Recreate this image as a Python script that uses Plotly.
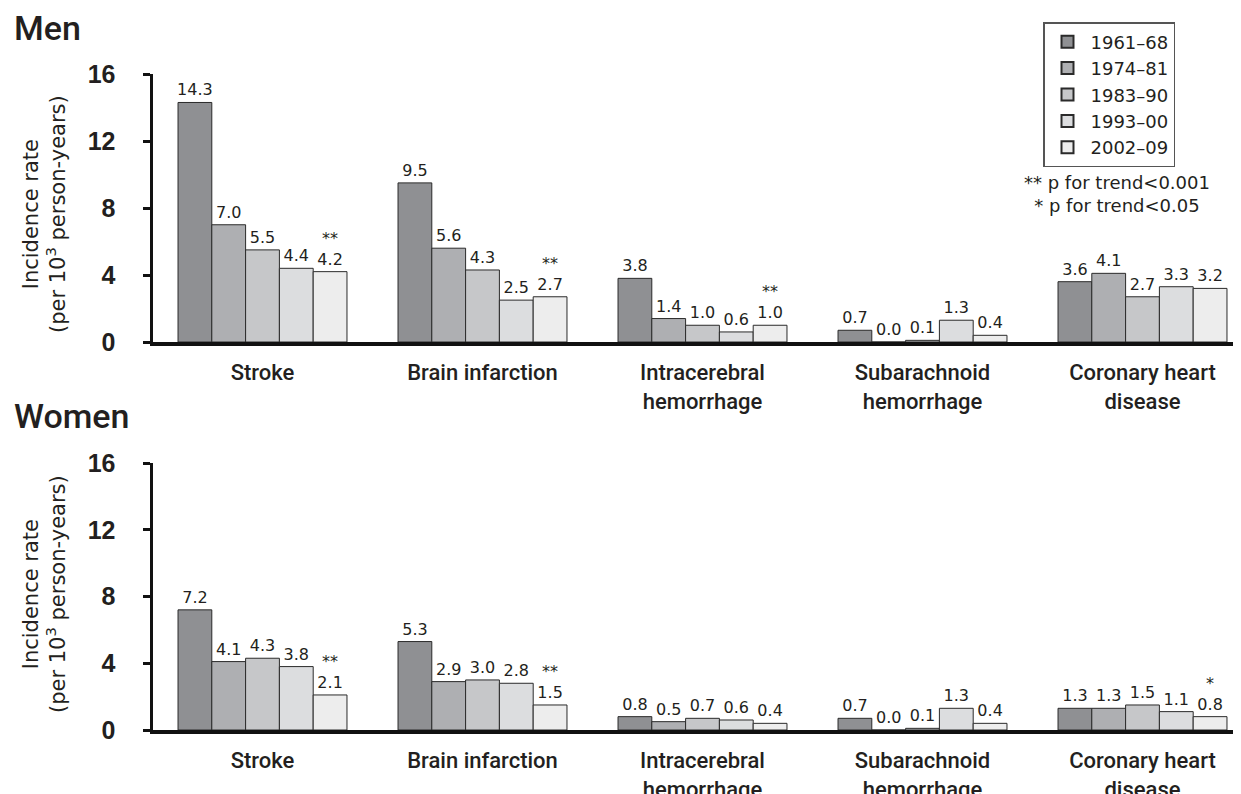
import plotly.graph_objects as go

categories = ["Stroke", "Brain infarction", "Intracerebral<br>hemorrhage",
              "Subarachnoid<br>hemorrhage", "Coronary heart<br>disease"]
periods = ["1961–68", "1974–81", "1983–90", "1993–00", "2002–09"]
colors = ["#8f9093", "#aeafb2", "#c6c7c9", "#dcdddf", "#ededed"]

# values[period][category]
men = [
    [14.3, 9.5, 3.8, 0.7, 3.6],
    [7.0, 5.6, 1.4, 0.0, 4.1],
    [5.5, 4.3, 1.0, 0.1, 2.7],
    [4.4, 2.5, 0.6, 1.3, 3.3],
    [4.2, 2.7, 1.0, 0.4, 3.2],
]
women = [
    [7.2, 5.3, 0.8, 0.7, 1.3],
    [4.1, 2.9, 0.5, 0.0, 1.3],
    [4.3, 3.0, 0.7, 0.1, 1.5],
    [3.8, 2.8, 0.6, 1.3, 1.1],
    [2.1, 1.5, 0.4, 0.4, 0.8],
]
# significance marks for the last period
men_sig = ["**", "**", "**", "", ""]
women_sig = ["**", "**", "", "", "*"]

W, H = 1241, 794
OFF = 8  # page body margin
txt = "#231f20"
num_font = dict(family="DejaVu Sans", size=16, color=txt)

fig = go.Figure()

def add_panel(vals, sig, xa, ya, showleg):
    for i, p in enumerate(periods):
        labels = []
        for j, v in enumerate(vals[i]):
            s = f"{v:.1f}"
            if i == len(periods) - 1 and sig[j]:
                s = sig[j] + "<br>" + s
            labels.append(s)
        fig.add_trace(go.Bar(
            x=categories, y=vals[i], name=p,
            marker=dict(color=colors[i], line=dict(color="#2a2a2a", width=1)),
            text=labels, textposition="outside", textfont=num_font,
            constraintext="none", cliponaxis=False, textangle=0,
            xaxis=xa, yaxis=ya, showlegend=showleg, legendgroup=p,
            hoverinfo="x+y+name",
        ))

add_panel(men, men_sig, "x", "y", True)
add_panel(women, women_sig, "x2", "y2", False)

def px_y(p):
    return 1 - (p - OFF) / H

def px_x(p):
    return (p - OFF) / W

x0 = px_x(152.5)
xrange = [-0.5, (W - (152.5 - OFF)) / 220 - 0.5]

xcommon = dict(
    range=xrange, showline=True, linecolor="#111", linewidth=4,
    ticks="", showgrid=False, zeroline=False, automargin=False,
    tickfont=dict(family="Roboto", size=22, color=txt, weight=500),
    ticklabelstandoff=8, fixedrange=True,
)
ycommon = dict(
    range=[0, 16], tickvals=[0, 4, 8, 12, 16], showline=True,
    linecolor="#111", linewidth=3, ticks="outside", ticklen=7, tickwidth=3,
    tickcolor="#111", showgrid=False, zeroline=False, automargin=False,
    tickfont=dict(family="Liberation Sans", size=25, color=txt, weight="bold"),
    ticklabelstandoff=22,
)

fig.update_layout(
    width=W, height=H,
    margin=dict(l=0, r=0, t=0, b=0, autoexpand=False),
    paper_bgcolor="white", plot_bgcolor="white",
    barmode="group", bargap=0.232, bargroupgap=0,
    xaxis=dict(domain=[x0, 1], anchor="y", **xcommon),
    yaxis=dict(domain=[px_y(342), px_y(74)], anchor="x", **ycommon),
    xaxis2=dict(domain=[x0, 1], anchor="y2", **xcommon),
    yaxis2=dict(domain=[px_y(730), px_y(463)], anchor="x2", **ycommon),
    legend=dict(
        x=px_x(1043), y=px_y(22), xanchor="left", yanchor="top",
        bordercolor="#555", borderwidth=1.5, bgcolor="white",
        font=dict(family="DejaVu Sans", size=18, color=txt),
        tracegroupgap=0, itemsizing="constant", itemwidth=36,
    ),
    font=dict(family="DejaVu Sans", color=txt),
)

annos = [
    dict(text="Men", x=px_x(12), y=px_y(28), xanchor="left", yanchor="middle",
         font=dict(family="Roboto", size=34, color=txt, weight=500)),
    dict(text="Women", x=px_x(12), y=px_y(416), xanchor="left", yanchor="middle",
         font=dict(family="Roboto", size=34, color=txt, weight=500)),
    dict(text="Incidence rate<br>(per 10<sup>3</sup> person-years)",
         x=px_x(44), y=px_y(214), xanchor="center", yanchor="middle", textangle=-90,
         font=dict(family="DejaVu Sans", size=21, color=txt)),
    dict(text="Incidence rate<br>(per 10<sup>3</sup> person-years)",
         x=px_x(44), y=px_y(594), xanchor="center", yanchor="middle", textangle=-90,
         font=dict(family="DejaVu Sans", size=21, color=txt)),
    dict(text="** p for trend<0.001<br>* p for trend<0.05",
         x=px_x(1117), y=px_y(194), xanchor="center", yanchor="middle", align="center",
         font=dict(family="DejaVu Sans", size=18, color=txt)),
]
for a in annos:
    a.update(xref="paper", yref="paper", showarrow=False)
fig.update_layout(annotations=annos)

fig.write_html("out.html")
